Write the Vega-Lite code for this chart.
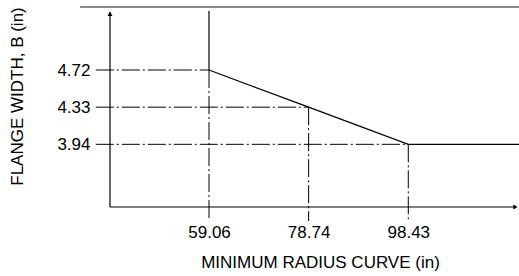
{
  "$schema": "https://vega.github.io/schema/vega-lite/v6.json",
  "width": 409,
  "height": 207,
  "autosize": "none",
  "padding": {"left": 110, "top": 0, "right": 0, "bottom": 69},
  "background": "white",
  "config": {"view": {"stroke": null}, "font": "Liberation Sans"},
  "datasets": {
    "hlines": [
      {"y": 4.72, "x": 36.7, "x2": 59.06},
      {"y": 4.33, "x": 36.7, "x2": 78.74},
      {"y": 3.94, "x": 36.7, "x2": 98.43}
    ],
    "vlines": [
      {"x": 59.06, "y": 4.72, "y2": 3.135},
      {"x": 78.74, "y": 4.33, "y2": 3.135},
      {"x": 98.43, "y": 3.94, "y2": 3.135}
    ],
    "curve": [
      {"x": 59.06, "y": 4.72},
      {"x": 78.74, "y": 4.33},
      {"x": 98.43, "y": 3.94},
      {"x": 120.3, "y": 3.94}
    ],
    "solid": [
      {"x": 39.5, "x2": 39.5, "y": 3.282, "y2": 5.33},
      {"x": 39.5, "x2": 119.7, "y": 3.282, "y2": 3.282},
      {"x": 59.06, "x2": 59.06, "y": 4.72, "y2": 5.34}
    ],
    "top": [
      {"x": 33.6, "x2": 120.3, "y": 5.381}
    ],
    "arrows": [
      {"x": 39.5, "y": 5.31, "dir": "up"},
      {"x": 119.6, "y": 3.282, "dir": "right"}
    ]
  },
  "layer": [
    {
      "data": {"name": "curve"},
      "mark": {"type": "line", "color": "black", "strokeWidth": 1.2},
      "encoding": {
        "x": {
          "field": "x", "type": "quantitative",
          "scale": {"domain": [39.5, 120.3], "nice": false, "zero": false},
          "axis": {
            "values": [59.06, 78.74, 98.43], "format": ".2f",
            "domain": false, "ticks": false, "grid": false,
            "labelFontSize": 17, "labelPadding": 17, "labelColor": "black",
            "labelFont": "Liberation Sans",
            "title": "MINIMUM RADIUS CURVE (in)", "titleFontSize": 17,
            "titleFontWeight": "normal", "titleColor": "black", "titlePadding": 14,
            "titleFont": "Liberation Sans", "titleX": 210
          }
        },
        "y": {
          "field": "y", "type": "quantitative",
          "scale": {"domain": [3.282, 5.455], "nice": false, "zero": false},
          "axis": {
            "values": [3.94, 4.33, 4.72], "format": ".2f",
            "domain": false, "ticks": false, "grid": false,
            "labelFontSize": 17, "labelPadding": 20, "labelColor": "black",
            "labelFont": "Liberation Sans",
            "title": "FLANGE WIDTH, B (in)", "titleFontSize": 17,
            "titleFontWeight": "normal", "titleColor": "black", "titlePadding": 30,
            "titleFont": "Liberation Sans", "titleY": 96
          }
        }
      }
    },
    {
      "data": {"name": "hlines"},
      "mark": {"type": "rule", "color": "black", "strokeWidth": 1, "strokeDash": [18, 3, 2, 3]},
      "encoding": {
        "x": {"field": "x", "type": "quantitative"},
        "x2": {"field": "x2"},
        "y": {"field": "y", "type": "quantitative"}
      }
    },
    {
      "data": {"name": "vlines"},
      "mark": {"type": "rule", "color": "black", "strokeWidth": 1, "strokeDash": [18, 3, 2, 3]},
      "encoding": {
        "x": {"field": "x", "type": "quantitative"},
        "y": {"field": "y", "type": "quantitative"},
        "y2": {"field": "y2"}
      }
    },
    {
      "data": {"name": "solid"},
      "mark": {"type": "rule", "color": "black", "strokeWidth": 1.2},
      "encoding": {
        "x": {"field": "x", "type": "quantitative"},
        "x2": {"field": "x2"},
        "y": {"field": "y", "type": "quantitative"},
        "y2": {"field": "y2"}
      }
    },
    {
      "data": {"name": "top"},
      "mark": {"type": "rule", "color": "#888888", "strokeWidth": 2},
      "encoding": {
        "x": {"field": "x", "type": "quantitative"},
        "x2": {"field": "x2"},
        "y": {"field": "y", "type": "quantitative"}
      }
    },
    {
      "data": {"name": "arrows"},
      "mark": {"type": "point", "filled": true, "color": "black", "size": 25, "opacity": 1},
      "encoding": {
        "x": {"field": "x", "type": "quantitative"},
        "y": {"field": "y", "type": "quantitative"},
        "shape": {
          "field": "dir", "type": "nominal",
          "scale": {"domain": ["up", "right"], "range": ["triangle-up", "triangle-right"]},
          "legend": null
        }
      }
    }
  ]
}
